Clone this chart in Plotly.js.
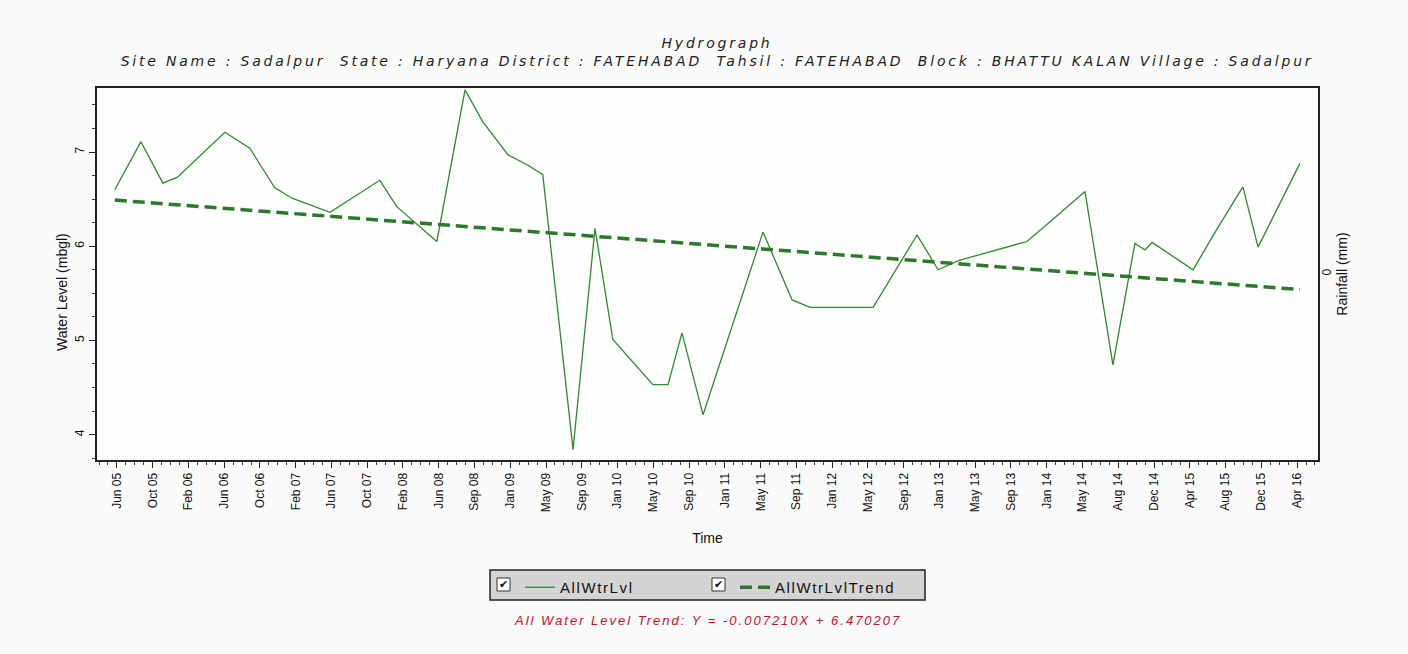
<!DOCTYPE html>
<html>
<head>
<meta charset="utf-8">
<script src="https://cdn.plot.ly/plotly-3.0.1.min.js"></script>
<style>
  html, body { margin: 0; padding: 0; background: #fafafa; }
  #plot { width: 1408px; height: 654px; }
  .gtitle { letter-spacing: 2.8px; }
  .legendtext { letter-spacing: 1.6px; }
  .trendnote .annotation-text { letter-spacing: 2px; }
</style>
</head>
<body>
<div id="plot"></div>
<script>
// water level readings (mbgl)
const wlDates = [
  '2005-06-05', '2005-09-01', '2005-11-14', '2006-01-01', '2006-06-11',
  '2006-09-03', '2006-11-26', '2007-01-23', '2007-05-31', '2007-11-15',
  '2008-01-11', '2008-05-25', '2008-08-28', '2008-10-27', '2009-01-20',
  '2009-03-28', '2009-05-17', '2009-08-27', '2009-11-09', '2010-01-08',
  '2010-05-23', '2010-07-13', '2010-08-29', '2010-11-08', '2011-05-29',
  '2011-09-04', '2011-11-04', '2012-06-03', '2012-10-29', '2013-01-08',
  '2013-03-20', '2013-11-03', '2014-02-04', '2014-05-18', '2014-08-20',
  '2014-11-02', '2014-12-06', '2014-12-30', '2015-05-17', '2015-08-09',
  '2015-11-01', '2015-12-22', '2016-05-11'
];
const wlValues = [
  6.60, 7.11, 6.67, 6.73, 7.21,
  7.04, 6.62, 6.51, 6.36, 6.70,
  6.42, 6.05, 7.66, 7.32, 6.97,
  6.86, 6.76, 3.84, 6.19, 5.01,
  4.53, 4.53, 5.08, 4.21, 6.15,
  5.43, 5.35, 5.35, 6.12, 5.75,
  5.85, 6.05, 6.30, 6.58, 4.74,
  6.03, 5.96, 6.04, 5.75, 6.20,
  6.63, 5.99, 6.88
];

// trend line end points
const trendDates = ['2005-06-05', '2016-05-11'];
const trendValues = [6.49, 5.54];

const tickLabels = [
  'Jun 05', 'Oct 05', 'Feb 06', 'Jun 06', 'Oct 06', 'Feb 07', 'Jun 07', 'Oct 07',
  'Feb 08', 'Jun 08', 'Sep 08', 'Jan 09', 'May 09', 'Sep 09', 'Jan 10', 'May 10',
  'Sep 10', 'Jan 11', 'May 11', 'Sep 11', 'Jan 12', 'May 12', 'Sep 12', 'Jan 13',
  'May 13', 'Sep 13', 'Jan 14', 'May 14', 'Aug 14', 'Dec 14', 'Apr 15', 'Aug 15',
  'Dec 15', 'Apr 16'
];

const DAY = 86400000;
const tickStart = Date.UTC(2005, 5, 12);
const tickStep = 120.5 * DAY;
const tickVals = tickLabels.map((_, i) => new Date(tickStart + i * tickStep).toISOString());

const font = 'Liberation Sans, Arial, sans-serif';
const green = '#2f8a2f';

// plot area in pixels: 97..1318 across, 88..460 down
const px = v => (v - 97) / 1221;
const py = v => (460 - v) / 372;

const data = [
  {
    x: wlDates,
    y: wlValues,
    type: 'scatter',
    mode: 'lines',
    name: 'AllWtrLvl',
    line: { color: green, width: 1.3 }
  },
  {
    x: trendDates,
    y: trendValues,
    type: 'scatter',
    mode: 'lines',
    name: 'AllWtrLvlTrend',
    line: { color: '#2b7a2b', width: 3.5, dash: '12px,6px' }
  },
  {
    x: trendDates,
    y: [0, 0],
    yaxis: 'y2',
    type: 'scatter',
    mode: 'lines',
    line: { width: 0 },
    showlegend: false,
    hoverinfo: 'skip'
  }
];

function checkbox(left) {
  return {
    type: 'rect', xref: 'paper', yref: 'paper',
    x0: px(left), x1: px(left + 13), y0: py(591), y1: py(578),
    fillcolor: '#ffffff', line: { color: '#333', width: 1 }
  };
}
function checkmark(left) {
  return {
    text: '✔', xref: 'paper', yref: 'paper',
    x: px(left + 6.5), y: py(584.5), xanchor: 'center', yanchor: 'middle',
    showarrow: false,
    font: { family: 'DejaVu Sans, sans-serif', size: 11, color: '#111' }
  };
}

const layout = {
  width: 1408,
  height: 654,
  paper_bgcolor: '#fafafa',
  plot_bgcolor: '#fdfdfd',
  font: { family: font, size: 12, color: '#111' },
  margin: { l: 97, r: 90, t: 88, b: 194 },
  title: {
    text: '<i>Hydrograph</i><br><i>Site Name : Sadalpur  State : Haryana District : FATEHABAD  Tahsil : FATEHABAD  Block : BHATTU KALAN Village : Sadalpur</i>',
    x: 717 / 1408,
    xref: 'container',
    y: 1 - 48 / 654,
    yref: 'container',
    yanchor: 'top',
    font: { family: 'DejaVu Sans, sans-serif', size: 14, color: '#222' }
  },
  xaxis: {
    type: 'date',
    range: ['2005-04-06', '2016-07-11'],
    tickmode: 'array',
    tickvals: tickVals,
    ticktext: tickLabels,
    tickangle: -90,
    ticks: 'outside',
    ticklen: 6,
    tickcolor: '#222',
    tickfont: { size: 12 },
    minor: { tickmode: 'linear', tick0: new Date(tickStart).toISOString(), dtick: tickStep / 4, ticklen: 3, tickcolor: '#444', ticks: 'outside' },
    showgrid: false,
    zeroline: false,
    showline: true,
    mirror: true,
    linecolor: '#222',
    linewidth: 2,
    title: { text: 'Time', font: { size: 14 }, standoff: 22 }
  },
  yaxis: {
    range: [3.73, 7.68],
    dtick: 1,
    tickangle: -90,
    ticks: 'outside',
    ticklen: 6,
    tickcolor: '#222',
    tickfont: { size: 12 },
    minor: { dtick: 0.25, ticklen: 3, tickcolor: '#444', ticks: 'outside' },
    showgrid: false,
    zeroline: false,
    showline: true,
    mirror: true,
    linecolor: '#222',
    linewidth: 2
  },
  yaxis2: {
    overlaying: 'y',
    side: 'right',
    range: [-1, 1],
    tickvals: [0],
    ticktext: ['0'],
    tickangle: -90,
    ticks: '',
    showgrid: false,
    zeroline: false,
    showline: false,
    title: { text: 'Rainfall (mm)', font: { size: 14 }, standoff: 2 }
  },
  legend: {
    orientation: 'h',
    x: px(520),
    xanchor: 'left',
    y: py(571),
    yanchor: 'top',
    bgcolor: 'rgba(0,0,0,0)',
    borderwidth: 0,
    entrywidth: 170,
    entrywidthmode: 'pixels',
    font: { size: 15, color: '#111' }
  },
  shapes: [
    {
      type: 'rect', xref: 'paper', yref: 'paper',
      x0: px(490), x1: px(925), y0: py(600), y1: py(570),
      fillcolor: '#d4d4d4', line: { color: '#222', width: 1.5 }
    },
    checkbox(497),
    checkbox(712)
  ],
  annotations: [
    {
      text: 'Water Level (mbgl)',
      xref: 'paper', yref: 'paper',
      x: px(62), y: py(292),
      xanchor: 'center', yanchor: 'middle',
      textangle: -90,
      showarrow: false,
      font: { size: 14, color: '#111' }
    },
    {
      text: '<i>All Water Level Trend: Y = -0.007210X + 6.470207</i>',
      xref: 'paper', yref: 'paper',
      x: 0.5, y: py(620),
      xanchor: 'center', yanchor: 'middle',
      showarrow: false,
      font: { size: 13, color: '#c8102e' }
    },
    checkmark(497),
    checkmark(712)
  ],
  showlegend: true
};

Plotly.newPlot('plot', data, layout, { staticPlot: true }).then(() => {
  // widen the trend note like the original screen font
  const notes = document.querySelectorAll('.annotation');
  notes[1].classList.add('trendnote');
});
</script>
</body>
</html>
